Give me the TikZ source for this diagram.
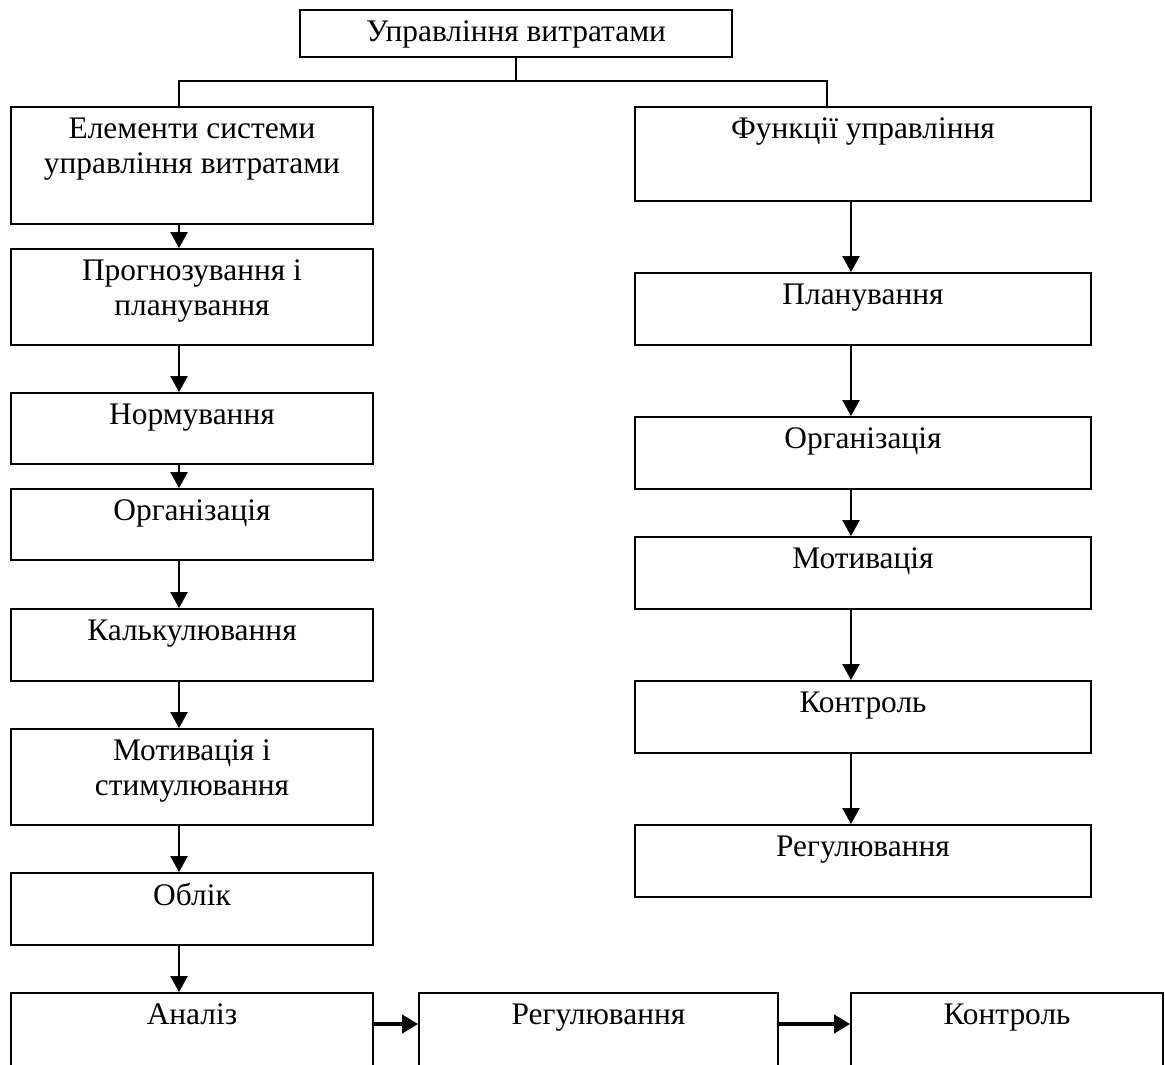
\documentclass[tikz,border=0pt]{standalone}
\usepackage{fontspec}
\setmainfont{Liberation Serif}
\usetikzlibrary{arrows.meta, positioning}

\tikzset{
  blok/.style={draw=black, line width=0.9pt, minimum width=181pt, minimum height=36pt, inner sep=0pt},
  txt/.style={anchor=north, align=center, inner sep=0pt, yshift=-5.5pt,
    font=\fontsize{15.7}{17.5}\selectfont},
  lin/.style={line width=0.8pt},
  strilka/.style={line width=1.2pt, -{Triangle[length=8pt, width=8.5pt]}},
  tovsta/.style={line width=2pt, -{Triangle[length=8pt, width=9pt]}},
}

\begin{document}
\begin{tikzpicture}[x=0.5pt, y=-0.5pt]
  \useasboundingbox (0,0) rectangle (1165,1064);

  \node[blok, minimum width=216pt, minimum height=23.5pt, label={[txt]north:Управління витратами}] (upr) at (516, 33.5) {};

  % left column
  \node[blok, minimum height=58.5pt, label={[txt]north:Елементи системи\\управління витратами}] (elem) at (192, 165.5) {};
  \node[blok, minimum height=48pt, label={[txt]north:Прогнозування і\\планування}] (prog) at (192, 297) {};
  \node[blok, minimum height=35.5pt, label={[txt]north:Нормування}] (norm) at (192, 428.5) {};
  \node[blok, minimum height=35.5pt, label={[txt]north:Організація}] (org) at (192, 524.5) {};
  \node[blok, label={[txt]north:Калькулювання}] (kalk) at (192, 645) {};
  \node[blok, minimum height=48pt, label={[txt]north:Мотивація і\\стимулювання}] (motst) at (192, 777) {};
  \node[blok, label={[txt]north:Облік}] (oblik) at (192, 909) {};
  \node[blok, minimum height=40pt, label={[txt]north:Аналіз}] (analiz) at (192, 1033) {};

  % bottom row
  \node[blok, minimum width=179.5pt, minimum height=40pt, label={[txt]north:Регулювання}] (rehb) at (598.5, 1033) {};
  \node[blok, minimum width=156pt, minimum height=40pt, label={[txt]north:Контроль}] (kontrb) at (1007, 1033) {};

  % right column
  \node[blok, minimum width=228pt, minimum height=47pt, label={[txt]north:Функції управління}] (funk) at (863, 154) {};
  \node[blok, minimum width=228pt, label={[txt]north:Планування}] (plan) at (863, 309) {};
  \node[blok, minimum width=228pt, label={[txt]north:Організація}] (orgr) at (863, 453) {};
  \node[blok, minimum width=228pt, label={[txt]north:Мотивація}] (motr) at (863, 573) {};
  \node[blok, minimum width=228pt, label={[txt]north:Контроль}] (kontrr) at (863, 717) {};
  \node[blok, minimum width=228pt, label={[txt]north:Регулювання}] (rehr) at (863, 861) {};

  \draw[lin] (upr.south) -- ++(0,23) -| ([xshift=-6.5pt]elem.north);
  \draw[lin] (upr.south) -- ++(0,23) -| ([xshift=-18pt]funk.north);

  \draw[strilka] ([xshift=-6.5pt]elem.south) -- ([xshift=-6.5pt]prog.north);
  \draw[strilka] ([xshift=-6.5pt]prog.south) -- ([xshift=-6.5pt]norm.north);
  \draw[strilka] ([xshift=-6.5pt]norm.south) -- ([xshift=-6.5pt]org.north);
  \draw[strilka] ([xshift=-6.5pt]org.south) -- ([xshift=-6.5pt]kalk.north);
  \draw[strilka] ([xshift=-6.5pt]kalk.south) -- ([xshift=-6.5pt]motst.north);
  \draw[strilka] ([xshift=-6.5pt]motst.south) -- ([xshift=-6.5pt]oblik.north);
  \draw[strilka] ([xshift=-6.5pt]oblik.south) -- ([xshift=-6.5pt]analiz.north);

  \draw[strilka] ([xshift=-6pt]funk.south) -- ([xshift=-6pt]plan.north);
  \draw[strilka] ([xshift=-6pt]plan.south) -- ([xshift=-6pt]orgr.north);
  \draw[strilka] ([xshift=-6pt]orgr.south) -- ([xshift=-6pt]motr.north);
  \draw[strilka] ([xshift=-6pt]motr.south) -- ([xshift=-6pt]kontrr.north);
  \draw[strilka] ([xshift=-6pt]kontrr.south) -- ([xshift=-6pt]rehr.north);

  \draw[tovsta] ([yshift=4.5pt]analiz.east) -- ([yshift=4.5pt]rehb.west);
  \draw[tovsta] ([yshift=4.5pt]rehb.east) -- ([yshift=4.5pt]kontrb.west);
\end{tikzpicture}
\end{document}
